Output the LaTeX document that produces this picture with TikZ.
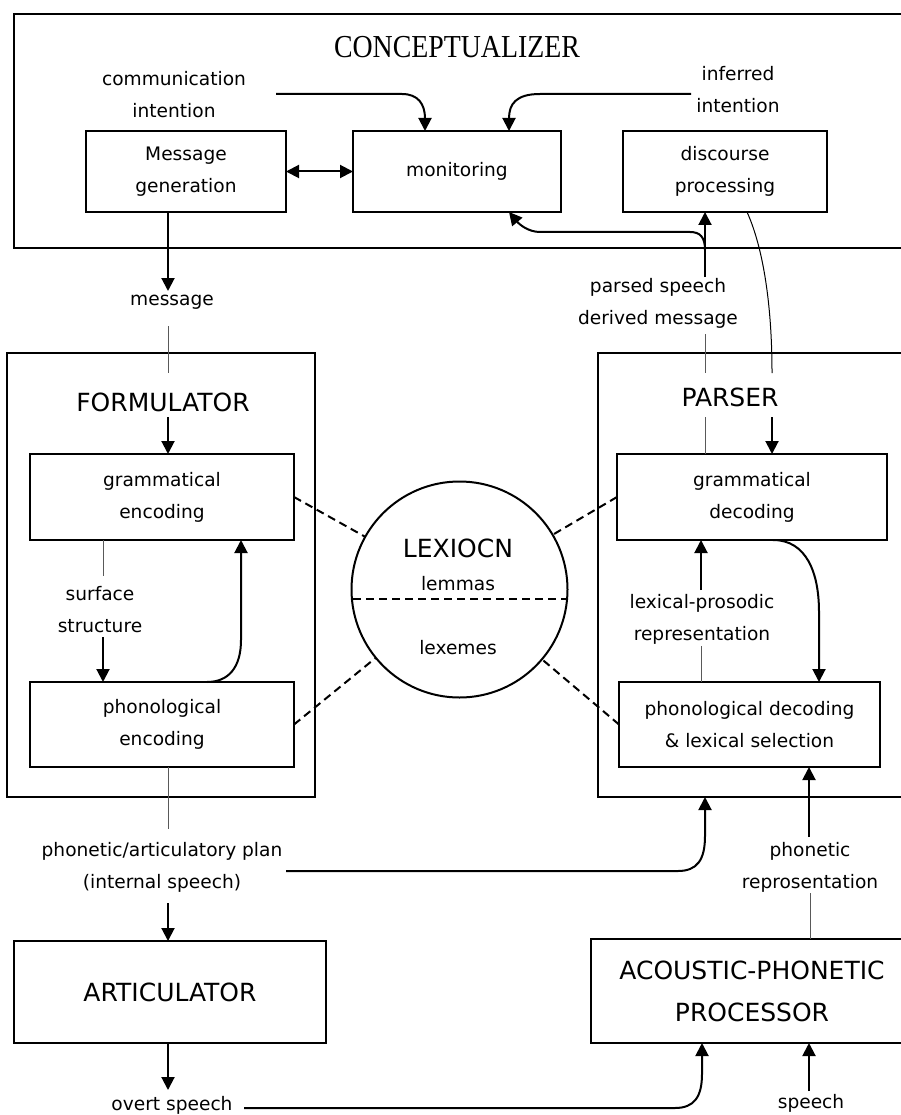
\documentclass[tikz,border=0pt]{standalone}
\usepackage{fontspec}
\setmainfont{DejaVu Sans}
\newfontfamily\titlefont{Liberation Serif}
\usetikzlibrary{arrows.meta}

\begin{document}
\begin{tikzpicture}[x=1pt,y=-1pt,
  every node/.style={inner sep=0pt, outer sep=0pt},
  txt/.style={font=\fontsize{18.6}{32}\selectfont, align=center},
  big/.style={font=\fontsize{25}{42}\selectfont, align=center},
  procbox/.style={draw, line width=2pt, txt},
  container/.style={draw, line width=2pt},
  arrowtip/.style={-{Triangle[length=13pt,width=13pt]}},
  arr/.style={line width=2pt, arrowtip},
  thinline/.style={line width=1pt, black!65},
  lexdash/.style={line width=2pt, dash pattern=on 8pt off 5pt},
]
\useasboundingbox (0,0) rectangle (901,1115);

% ---------- conceptualizer ----------
\node[container, minimum width=898pt, minimum height=234pt] (concept) at (463,131) {};
\node (ctitle) at (457,47) {\titlefont\fontsize{32}{32}\selectfont\scalebox{0.87}[1]{CONCEPTUALIZER}};
\node[txt] (comm) at (174,94.5) {communication\\intention};
\node[txt] (infer) at (738,89.5) {inferred\\intention};
\node[procbox, minimum width=200pt, minimum height=81pt] (mg) at (186,171.5) {Message\\generation};
\node[procbox, minimum width=208pt, minimum height=81pt] (mon) at (457,171.5) {monitoring};
\node[procbox, minimum width=204pt, minimum height=81pt] (dp) at (725,171.5) {discourse\\processing};

% ---------- formulator ----------
\node[container, minimum width=308pt, minimum height=444pt] (form) at (161,575) {};
\node[big] (formlbl) at (163,402) {FORMULATOR};
\node[procbox, minimum width=264pt, minimum height=86pt] (ge) at (162,497) {grammatical\\encoding};
\node[procbox, minimum width=264pt, minimum height=85pt] (pe) at (162,724.5) {phonological\\encoding};
\node[txt] (msg) at (172,302) {message};
\node[txt] (surf) at (100,609.5) {surface\\structure};

% ---------- lexicon ----------
\node[draw, circle, line width=2pt, minimum size=216pt] (lex) at (459.5,589.5) {};
\node[big] (lexlbl) at (458,548) {LEXIOCN};
\node[txt] (lem) at (458,584) {lemmas};
\node[txt] (lxm) at (458,648) {lexemes};

% ---------- parser ----------
\node[container, minimum width=314pt, minimum height=444pt] (parser) at (755,575) {};
\node[big] (parlbl) at (730,397) {PARSER};
\node[procbox, minimum width=270pt, minimum height=86pt] (gd) at (752,497) {grammatical\\decoding};
\node[procbox, minimum width=261pt, minimum height=85pt] (pd) at (749.5,724.5) {phonological decoding\\\& lexical selection};
\node[txt] (parsed) at (658,303) {parsed speech\\derived message};
\node[txt] (lexpro) at (702,619) {lexical-prosodic\\representation};
\node[txt] (phrep) at (810,867) {phonetic\\reprosentation};

% ---------- articulator and acoustic-phonetic processor ----------
\node[txt] (plan) at (162,867) {phonetic/articulatory plan\\(internal speech)};
\node[procbox, big, minimum width=312pt, minimum height=102pt] (art) at (170,992) {ARTICULATOR};
\node[procbox, big, minimum width=322pt, minimum height=104pt] (ap) at (752,991) {ACOUSTIC-PHONETIC\\PROCESSOR};
\node[txt] (overt) at (172,1105) {overt speech};
\node[txt] (speech) at (811,1103) {speech};

% free ends of connectors next to labels
\coordinate (commend) at (276,94);
\coordinate (inferend) at (691,94);
\coordinate (psup) at (705,277);
\coordinate (psdown) at (705,334);
\coordinate (msgup) at (168,291);
\coordinate (msgdown) at (168,326);
\coordinate (formup) at (168,373);
\coordinate (formdown) at (168,417);
\coordinate (parup1) at (705,373);
\coordinate (pardown1) at (705,417);
\coordinate (parup2) at (772,373);
\coordinate (pardown2) at (772,417);
\coordinate (surfup) at (103,576);
\coordinate (surfdown) at (103,637);
\coordinate (lpup) at (701,590);
\coordinate (lpdown) at (701,646);
\coordinate (prup) at (809,837);
\coordinate (prdown) at (810,893);
\coordinate (planup) at (168,829);
\coordinate (plandown) at (168,903);
\coordinate (planright) at (286,871);
\coordinate (overtdown) at (168,1090);
\coordinate (overtright) at (244,1108);
\coordinate (speechup) at (809,1091);

% ---------- conceptualizer connectors ----------
\draw[line width=2pt, {Triangle[length=13pt,width=13pt]}-{Triangle[length=13pt,width=13pt]}] (mg) -- (mon);
\draw[arr] (commend) -- (402,94) .. controls (418,94) and (425,104) .. ([xshift=-32pt]mon.north);
\draw[arr] (inferend) -- (540,94) .. controls (516,94) and (509,104) .. ([xshift=52pt]mon.north);
\draw[arr] (psup) -- ([xshift=-20pt]dp.south);
\draw[arr] (705,250) .. controls (705,237) and (700,232) .. (690,232) -- (540,232)
  .. controls (528,232) and (519,224) .. ([xshift=52pt]mon.south);
\draw[line width=1pt] ([xshift=22pt]dp.south) .. controls (762,245) and (772,300) .. (parup2);

% ---------- formulator connectors ----------
\draw[arr] ([xshift=-18pt]mg.south) -- (msgup);
\draw[thinline] (msgdown) -- (formup);
\draw[arr] (formdown) -- ([xshift=6pt]ge.north);
\draw[thinline] ([xshift=-59pt]ge.south) -- (surfup);
\draw[arr] (surfdown) -- ([xshift=-59pt]pe.north);
\draw[arr] ([xshift=45pt]pe.north) .. controls (228,682) and (241,668) .. (241,640) -- ([xshift=79pt]ge.south);

% ---------- lexicon links ----------
\draw[lexdash] (353,599) -- (566,599);
\draw[lexdash] (ge.east) -- (lex);
\draw[lexdash] (pe.east) -- (lex);
\draw[lexdash] (gd.west) -- (lex);
\draw[lexdash] (pd.west) -- (lex);

% ---------- parser connectors ----------
\draw[thinline] (psdown) -- (parup1);
\draw[thinline] (pardown1) -- ([xshift=-47pt]gd.north);
\draw[arr] (pardown2) -- ([xshift=20pt]gd.north);
\draw[arr] (lpup) -- ([xshift=-51pt]gd.south);
\draw[thinline] (lpdown) -- ([xshift=-48.5pt]pd.north);
\draw[arr] ([xshift=21pt]gd.south) .. controls (806,540) and (819,572) .. (819,612) -- ([xshift=69.5pt]pd.north);
\draw[arr] (prup) -- ([xshift=59.5pt]pd.south);
\draw[thinline] (prdown) -- ([xshift=58pt]ap.north);

% ---------- speech output and input ----------
\draw[thinline] ([xshift=6pt]pe.south) -- (planup);
\draw[arr] (plandown) -- ([xshift=-2pt]art.north);
\draw[arr] (planright) -- (678,871) .. controls (697,871) and (705,860) .. (705,836) -- ([xshift=-50pt]parser.south);
\draw[arr] ([xshift=-2pt]art.south) -- (overtdown);
\draw[arr] (overtright) -- (675,1108) .. controls (694,1108) and (702,1097) .. (702,1074) -- ([xshift=-50pt]ap.south);
\draw[arr] (speechup) -- ([xshift=57pt]ap.south);

\end{tikzpicture}
\end{document}
